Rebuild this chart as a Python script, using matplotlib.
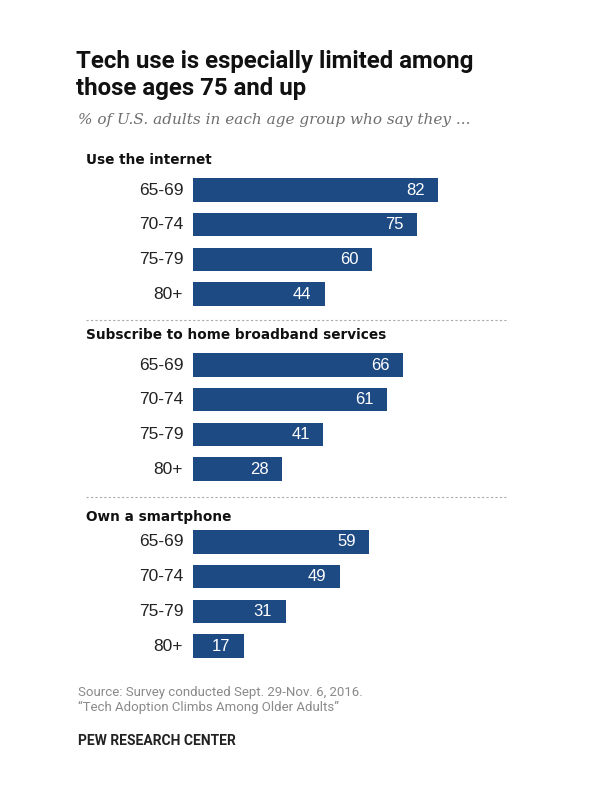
import matplotlib.pyplot as plt

# Data
sections = ["Use the internet", "Subscribe to home broadband services", "Own a smartphone"]
ages = ["65-69", "70-74", "75-79", "80+"]
internet = [82, 75, 60, 44]
broadband = [66, 61, 41, 28]
smartphone = [59, 49, 31, 17]
series = [internet, broadband, smartphone]

W, H = 600, 800
bar_color = "#1e4a84"
row_px = 34.7

fig = plt.figure(figsize=(6, 8), dpi=100)

def fx(px):
    return px / W

def fy(px):
    return 1 - px / H

fig.text(fx(76), fy(75), "Tech use is especially limited among\nthose ages 75 and up",
         fontsize=17.3, fontweight="bold", family="Roboto", va="center", ha="left",
         linespacing=1.2, color="#111111")
fig.text(fx(78), fy(120), "% of U.S. adults in each age group who say they ...",
         fontsize=11, style="italic", family="DejaVu Serif", color="#6e6e6e",
         va="center", ha="left")

first_row = [190, 365, 542]
header_y = [160, 335, 517]
dash_y = [320, 497]
# the original chart draws the broadband panel on a slightly wider scale
xmax = [100, 94, 100]

for name, vals, r0, hy, xm in zip(sections, series, first_row, header_y, xmax):
    top = r0 - row_px / 2
    height = row_px * 4
    ax = fig.add_axes([fx(193), fy(top + height), fx(299), height / H])
    y = list(range(len(ages)))
    ax.barh(y, vals, height=0.68, color=bar_color)
    ax.set_xlim(0, xm)
    ax.set_ylim(3.5, -0.5)
    ax.axis("off")
    for yi, v, a in zip(y, vals, ages):
        ax.text(v - 4.5 * xm / 100, yi, str(v), color="white", fontsize=12,
                family="Liberation Sans", ha="right", va="center")
        ax.text(-3.3 * xm / 100, yi, a, color="#222222", fontsize=12.5,
                family="Liberation Sans", ha="right", va="center")
    fig.text(fx(86), fy(hy), name, fontsize=9.8, fontweight="bold", family="DejaVu Sans",
             va="center", ha="left", color="#111111")

for dy in dash_y:
    fig.add_artist(plt.Line2D([fx(86), fx(508)], [fy(dy), fy(dy)], color="#aaaaaa",
                              lw=0.8, ls=(0, (2, 2))))

fig.text(fx(78), fy(700), "Source: Survey conducted Sept. 29-Nov. 6, 2016.\n\u201cTech Adoption Climbs Among Older Adults\u201d",
         fontsize=9.5, family="Roboto", color="#8a8a8a", va="center", ha="left",
         linespacing=1.2)
fig.text(fx(78), fy(741), "PEW RESEARCH CENTER", fontsize=10, fontweight="bold",
         family="Roboto", color="#222222", va="center", ha="left")

fig.savefig("out.png", dpi=100)
